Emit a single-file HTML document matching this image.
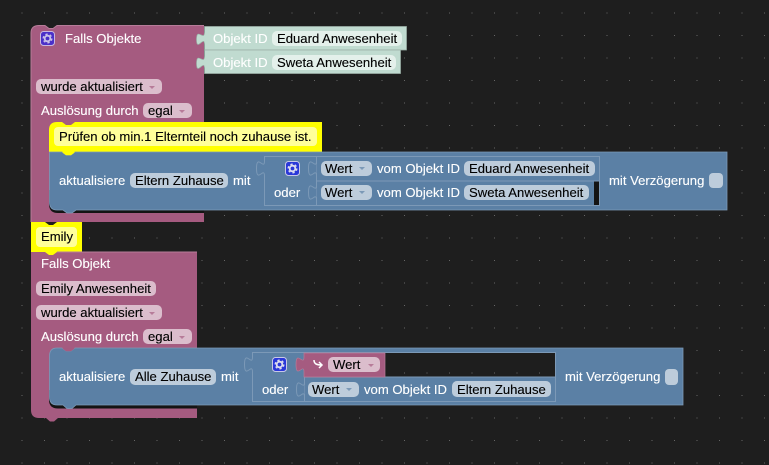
<!DOCTYPE html>
<html><head><meta charset="utf-8"><style>
html,body{margin:0;padding:0;background:#1e1e1e}
svg{display:block}
text{font-family:"Liberation Sans",sans-serif;font-size:13.1px;fill:#fff;stroke:#fff;stroke-width:.12px}
text.d{fill:#000;stroke:#000}
.pf{fill:#dbbdcc}.bf{fill:#bdccdb}.mf{fill:#e4f0eb}
.pa{fill:#b77c99}.ba{fill:#7c99b7}
</style></head><body>
<svg width="769" height="465" viewBox="0 0 769 465" xmlns="http://www.w3.org/2000/svg">
<defs>
<pattern id="g" x="0" y="0" width="22.5" height="22.5" patternUnits="userSpaceOnUse"><rect x="21.5" y="12.5" width="1" height="1" fill="#666"/></pattern>
<g id="gear"><rect x=".5" y=".5" width="14" height="14" rx="3" fill="#2a38d8" stroke="#c8c8e8" stroke-width="1"/><circle cx="7.500" cy="7.500" r="2.800" fill="none" stroke="#dde" stroke-width="1.800"/><circle cx="7.500" cy="7.500" r="4.300" fill="none" stroke="#dde" stroke-width="1.400" stroke-dasharray="2.300 2.200"/></g>
<g id="gear2"><rect x=".5" y=".5" width="14" height="14" rx="3" fill="#4a30c8" stroke="#c8b8e0" stroke-width="1"/><circle cx="7.500" cy="7.500" r="2.800" fill="none" stroke="#c8c0e8" stroke-width="1.800"/><circle cx="7.500" cy="7.500" r="4.300" fill="none" stroke="#c8c0e8" stroke-width="1.400" stroke-dasharray="2.300 2.200"/></g>
</defs>
<rect width="769" height="465" fill="#1e1e1e"/>
<rect width="769" height="465" fill="url(#g)"/>

<!-- Top purple block -->
<path d="M39 25.500H45l4 3h4l4-3H204V222H31V33Q31 25.500 39 25.500Z" fill="#a55b80"/>
<path d="M31 222V33Q31 25.500 39 25.500H45l4 3h4l4-3H204" fill="none" stroke="#b77c99" stroke-width="1"/>

<!-- Mint blocks -->
<path d="M204 26H407V50H204V41c0-8-8-3-8-7.500s8 7.500 8-2.500Z" fill="none"/>
<path d="M204.500 26.500H406.500V50H204.500V47c0-0 0 0 0 0V47V44.500c0,-10 -8,8 -8,-5 s8,2.500 8,-7.500Z" fill="#c0dbd0" stroke="#9ab0a6" stroke-width=".7"/>
<path d="M204.500 50H400.500V73.500H204.500V68.500c0,-10 -8,8 -8,-5 s8,2.500 8,-7.500Z" fill="#c0dbd0" stroke="#9ab0a6" stroke-width=".7"/>
<text x="213" y="43">Objekt ID</text>
<rect x="272" y="31" width="130" height="15" rx="5" class="mf"/><text x="277" y="43" class="d">Eduard Anwesenheit</text>
<text x="213" y="67">Objekt ID</text>
<rect x="272" y="55" width="124" height="15" rx="5" class="mf"/><text x="277" y="67" class="d">Sweta Anwesenheit</text>

<use href="#gear2" x="40" y="31"/>
<text x="65" y="43">Falls Objekte</text>
<rect x="36" y="79" width="126" height="15" rx="5" class="pf"/><text x="41" y="91" class="d">wurde aktualisiert</text><path d="M149 86h6l-3 3z" class="pa"/>
<text x="41" y="115">Auslösung durch</text>
<rect x="143" y="103" width="49" height="15" rx="5" class="pf"/><text x="148" y="115" class="d">egal</text><path d="M179 110h6l-3 3z" class="pa"/>

<!-- dark gap below blue 1 -->
<path d="M49 190H204V213H58Q49 213 49 204Z" fill="#141414"/>

<!-- Comment -->
<path d="M57 122H62l4 3h5l4-3H322V152H75l-4 3h-5l-4-3H49V130Q49 122 57 122Z" fill="#ffff00"/>
<rect x="54" y="127" width="263" height="19" rx="4" fill="#ffff99"/>
<text x="59" y="141" class="d">Prüfen ob min.1 Elternteil noch zuhause ist.</text>

<!-- Blue 1 -->
<path d="M49.500 152H62l4 3h5l4-3H727V210H76l-4 3h-5l-4-3H57Q49.500 210 49.500 202Z" fill="#5b80a5" stroke="#7c99b7" stroke-width=".8"/>
<path d="M62 152.200l4 3h5l4-3z" fill="#ffff00"/>
<text x="59" y="185">aktualisiere</text>
<rect x="130" y="173" width="98" height="15" rx="5" class="bf"/><text x="135" y="185" class="d">Eltern Zuhause</text>
<text x="233" y="185">mit</text>
<path d="M264.500 156.500H599.500V205.500H264.500V176c0,-10 -8,8 -8,-7.500 s8,2.500 8,-7.500Z" fill="#5b80a5" stroke="#7c99b7" stroke-width="1"/>
<path d="M316.500 156.500V205.500M316.500 181H599" stroke="#7c99b7" stroke-width="1" fill="none"/>
<path d="M316.500 176c0,-10 -8,8 -8,-7.500 s8,2.500 8,-7.500M316.500 200c0,-10 -8,8 -8,-7.500 s8,2.500 8,-7.500" fill="#5b80a5" stroke="#7c99b7"/>
<use href="#gear" x="285" y="161"/>
<text x="274" y="197">oder</text>
<rect x="321" y="161" width="51" height="15" rx="5" class="bf"/><text x="325" y="173" class="d">Wert</text><path d="M359 167h6l-3 3z" class="ba"/>
<rect x="321" y="185" width="51" height="15" rx="5" class="bf"/><text x="325" y="197" class="d">Wert</text><path d="M359 191h6l-3 3z" class="ba"/>
<text x="377" y="173">vom Objekt ID</text>
<rect x="464" y="161" width="131" height="15" rx="5" class="bf"/><text x="469" y="173" class="d">Eduard Anwesenheit</text>
<text x="377" y="197">vom Objekt ID</text>
<rect x="464" y="185" width="125" height="15" rx="5" class="bf"/><text x="469" y="197" class="d">Sweta Anwesenheit</text>
<rect x="594" y="181.500" width="5" height="23.500" fill="#141414"/>
<text x="609" y="185">mit Verzögerung</text>
<rect x="709" y="173" width="14" height="15" rx="4" class="bf"/>

<!-- Emily -->
<path d="M31 222H45l4 3h4l4-3H82V252H31Z" fill="#ffff00"/>
<rect x="36" y="227" width="41" height="20" rx="4" fill="#ffff99"/>
<text x="41" y="241" class="d">Emily</text>

<!-- Bottom purple -->
<path d="M31 252H197V418H58l-4 3.500h-4l-4-3.500H39Q31 418 31 410Z" fill="#a55b80"/>
<path d="M45 252l4 3h4l4-3z" fill="#ffff00"/>
<path d="M57 252H197" stroke="#b77c99" fill="none"/>
<text x="41" y="268">Falls Objekt</text>
<rect x="36" y="281" width="120" height="15" rx="5" class="pf"/><text x="41" y="293" class="d">Emily Anwesenheit</text>
<rect x="36" y="305" width="126" height="15" rx="5" class="pf"/><text x="41" y="317" class="d">wurde aktualisiert</text><path d="M149 312h6l-3 3z" class="pa"/>
<text x="41" y="341">Auslösung durch</text>
<rect x="143" y="329" width="49" height="15" rx="5" class="pf"/><text x="148" y="341" class="d">egal</text><path d="M179 336h6l-3 3z" class="pa"/>

<!-- Blue 2 -->
<path d="M49 390H197V408.500H58Q49 408.500 49 400Z" fill="#141414"/>
<path d="M57 348H62l4 3h5l4-3H683V405H76l-4 3.500h-5l-4-3.500H57Q49.500 405 49.500 397V356Q49.500 348 57 348Z" fill="#5b80a5" stroke="#7c99b7" stroke-width=".8"/>
<path d="M62 348.200l4 3h5l4-3z" fill="#a55b80"/>
<text x="59" y="381">aktualisiere</text>
<rect x="130" y="369" width="86" height="16" rx="5" class="bf"/><text x="135" y="381" class="d">Alle Zuhause</text>
<text x="221" y="381">mit</text>
<path d="M252.500 352.500H555.500V401.500H252.500V372c0,-10 -8,8 -8,-7.500 s8,2.500 8,-7.500Z" fill="#5b80a5" stroke="#7c99b7" stroke-width="1"/>
<path d="M304.500 352.500V401.500M304.500 377H555" stroke="#7c99b7" fill="none"/>
<use href="#gear" x="272" y="357"/>
<text x="262" y="394">oder</text>
<rect x="385" y="353" width="170" height="23.500" fill="#1e1e1e"/>
<rect x="385" y="353" width="170" height="23.500" fill="url(#g)"/>
<path d="M304 353H385V377H304V372c0,-10 -8,8 -8,-7.500 s8,2.500 8,-7.500Z" fill="#a55b80" stroke="#b77c99" stroke-width=".7"/>
<path d="M314 360c0 3.500 2 5 8 5m-3-3l3 3-3 3" fill="none" stroke="#fff" stroke-width="1.500"/>
<rect x="328" y="357" width="52" height="15" rx="5" class="pf"/><text x="333" y="369" class="d">Wert</text><path d="M368 364h6l-3 3z" class="pa"/>
<path d="M304.500 397c0,-10 -8,8 -8,-7.500 s8,2.500 8,-7.500" fill="#5b80a5" stroke="#7c99b7"/>
<rect x="308" y="382" width="51" height="15" rx="5" class="bf"/><text x="312" y="394" class="d">Wert</text><path d="M346 388h6l-3 3z" class="ba"/>
<text x="364" y="394">vom Objekt ID</text>
<rect x="452" y="381" width="99" height="16" rx="5" class="bf"/><text x="457" y="394" class="d">Eltern Zuhause</text>
<text x="565" y="381">mit Verzögerung</text>
<rect x="665" y="369" width="13" height="16" rx="4" class="bf"/>
</svg>
</body></html>
